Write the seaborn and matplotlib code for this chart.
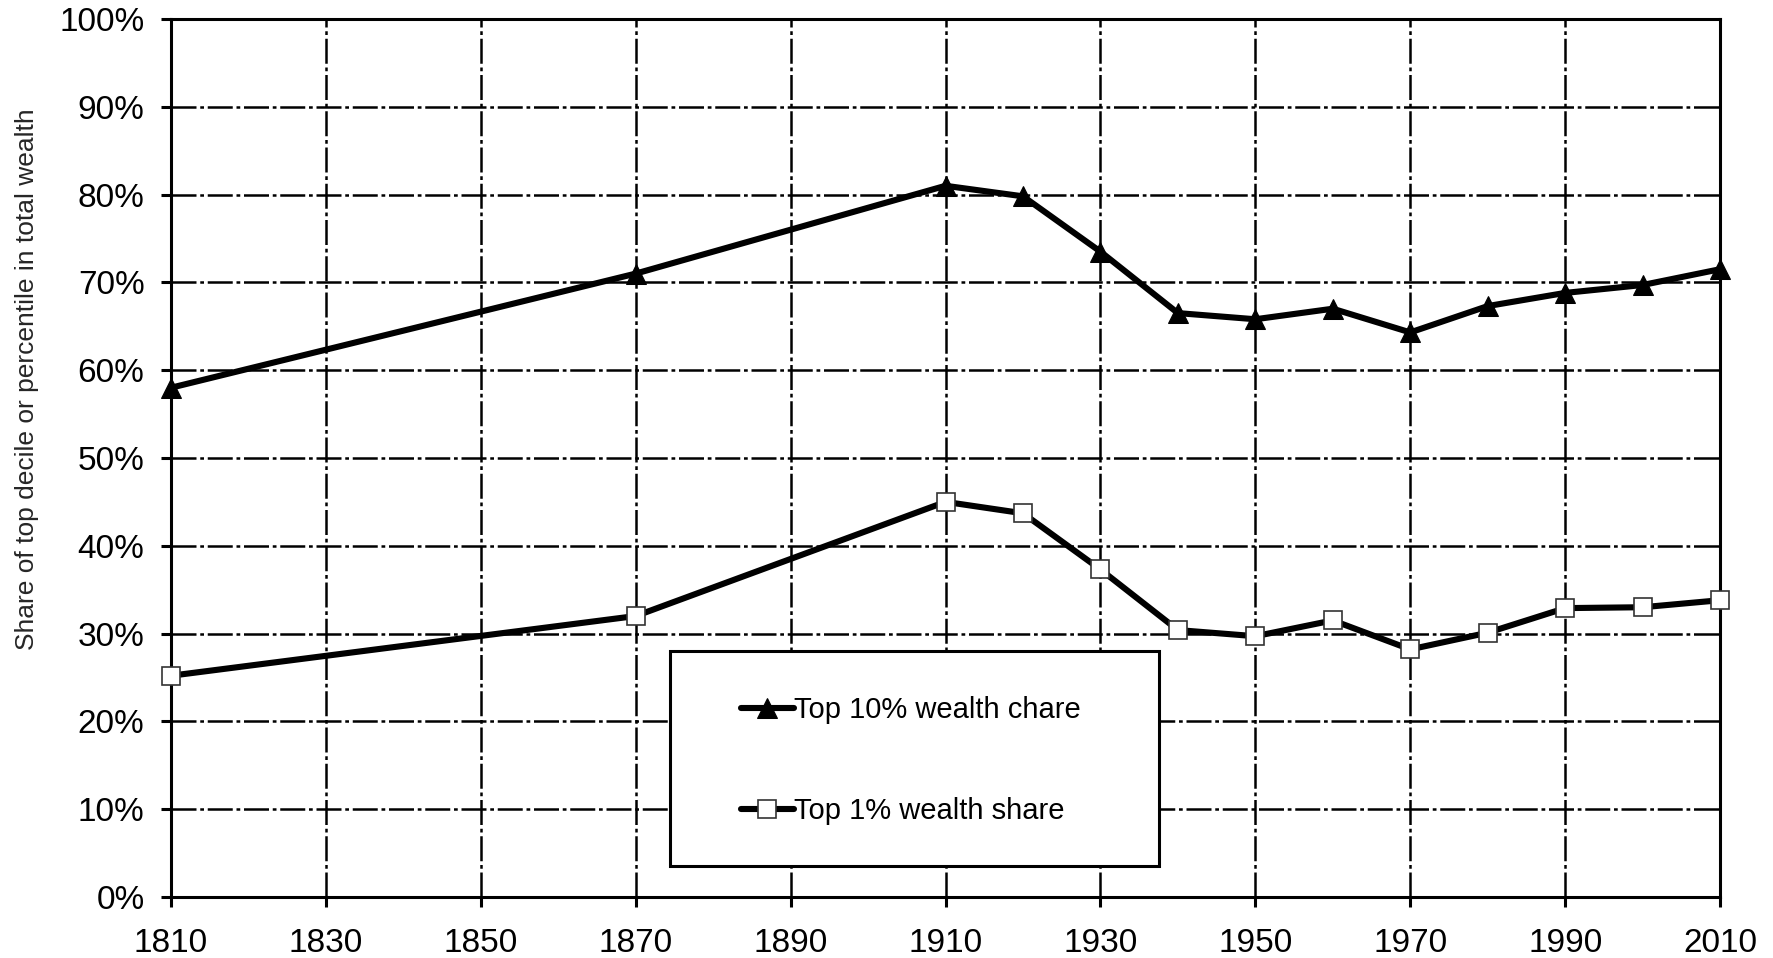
import matplotlib
matplotlib.use("Agg")
import matplotlib.pyplot as plt
import seaborn as sns
import pandas as pd
from matplotlib.ticker import FuncFormatter
from matplotlib.patches import Rectangle

years = [1810, 1870, 1910, 1920, 1930, 1940, 1950, 1960, 1970, 1980, 1990, 2000, 2010]
top10 = [58.0, 71.0, 81.0, 79.8, 73.5, 66.5, 65.8, 67.0, 64.3, 67.3, 68.8, 69.7, 71.5]
top1 = [25.2, 32.0, 45.0, 43.7, 37.3, 30.4, 29.7, 31.5, 28.2, 30.1, 32.9, 33.0, 33.8]
label10 = "Top 10% wealth chare"
label1 = "Top 1% wealth share"
ylabel = "Share of top decile or percentile in total wealth"
xticks = list(range(1810, 2011, 20))
yticks = list(range(0, 101, 10))

sns.set_theme(style="white")
plt.rcParams['font.family'] = ['Liberation Sans', 'DejaVu Sans']

df10 = pd.DataFrame({"year": years, "share": top10})
df1 = pd.DataFrame({"year": years, "share": top1})

fig = plt.figure(figsize=(17.74, 9.58), dpi=100)
ax = fig.add_axes([0.0964, 0.0637, 0.8732, 0.9165])

grid_style = (0, (10, 1.5, 1.5, 1.5))
sns.lineplot(data=df10, x="year", y="share", ax=ax, color="black", linewidth=4.4,
             marker="^", markersize=14, markerfacecolor="black", markeredgecolor="black",
             label=label10, zorder=5, clip_on=False)
sns.lineplot(data=df1, x="year", y="share", ax=ax, color="black", linewidth=4.4,
             marker="s", markersize=13, markerfacecolor="white", markeredgecolor="#333333",
             markeredgewidth=1.2, label=label1, zorder=5, clip_on=False)

ax.set_xlim(1810, 2010)
ax.set_ylim(0, 100)
ax.set_xticks(xticks)
ax.set_yticks(yticks)
ax.yaxis.set_major_formatter(FuncFormatter(lambda v, p: f"{int(v)}%"))
ax.grid(True, color="black", linewidth=1.8, linestyle=grid_style)
ax.set_axisbelow(True)
for s in ax.spines.values():
    s.set_visible(True)
    s.set_color("black")
    s.set_linewidth(2.2)
ax.tick_params(axis="both", which="both", direction="out", length=7, width=2.2,
               colors="black", labelsize=24, bottom=True, left=True)
ax.tick_params(axis="x", pad=15)
ax.tick_params(axis="y", pad=12)
ax.set_xlabel("")
ax.set_ylabel(ylabel, fontsize=19)
ax.yaxis.set_label_coords(-0.085, 0.59)

# legend box
box = Rectangle((0.322, 0.035), 0.316, 0.245, transform=ax.transAxes,
                facecolor="white", edgecolor="black", linewidth=2.2, zorder=8)
ax.add_patch(box)
leg = ax.legend(loc="center left", bbox_to_anchor=(0.368, 0.155),
                fontsize=21, frameon=False, handlelength=1.8, handletextpad=0.0,
                labelspacing=2.5, borderpad=0, borderaxespad=0)
leg.set_zorder(10)
for t in leg.get_texts():
    t.set_color("black")

fig.savefig("out.png", dpi=100, facecolor="white")
